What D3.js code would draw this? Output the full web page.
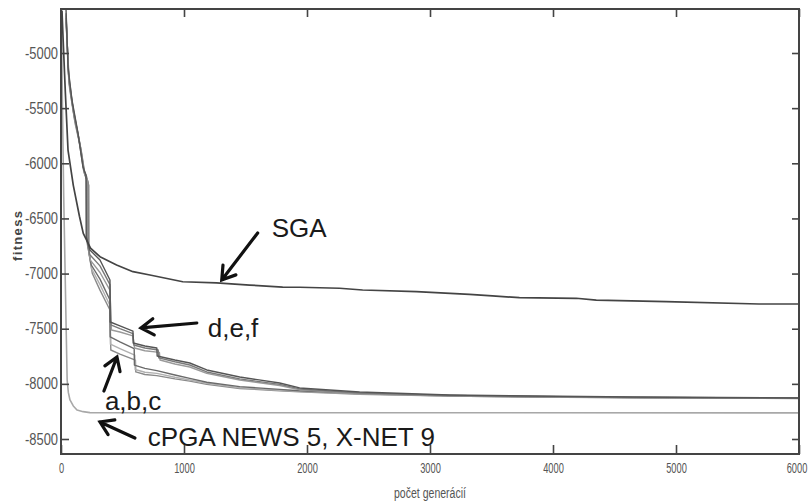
<!DOCTYPE html>
<html>
<head>
<meta charset="utf-8">
<script src="https://cdn.jsdelivr.net/npm/d3@7/dist/d3.min.js"></script>
<style>
  html, body { margin: 0; padding: 0; background: #fff; }
  svg { display: block; }
</style>
</head>
<body>
<svg id="chart" width="812" height="504"></svg>
<script>
// Convergence of fitness over generations: SGA, six cellular variants (a–f), cPGA NEWS 5 / X-NET 9

const xTicks = [0, 1000, 2000, 3000, 4000, 5000, 6000];
const yTicks = [-8500, -8000, -7500, -7000, -6500, -6000, -5500, -5000];

// [generation, fitness]
const sga = [
  [8, -4620], [20, -4950], [35, -5350], [57, -5880], [100, -6200], [150, -6480],
  [181, -6635], [195, -6668], [240, -6770], [317, -6847], [452, -6922], [585, -6983],
  [723, -7013], [990, -7074], [1264, -7085], [1534, -7104], [1802, -7122], [1940, -7124],
  [2265, -7133], [2452, -7149], [2890, -7164], [3321, -7188], [3507, -7203], [3727, -7218],
  [4189, -7224], [4352, -7240], [4920, -7255], [5675, -7276], [6000, -7276]
];

const seriesD = [
  [41, -4610], [57, -5127], [89, -5426], [138, -5725], [179, -6034], [203, -6106],
  [205, -6668], [235, -6786], [317, -6877], [398, -7058], [400, -7439], [479, -7475],
  [585, -7521], [587, -7630], [682, -7657], [779, -7675], [782, -7747], [926, -7784],
  [1047, -7811], [1185, -7874], [1453, -7938], [1778, -7992], [1940, -8037], [2428, -8074],
  [3158, -8101], [3832, -8110], [4644, -8119], [6000, -8128]
];
const seriesE = [
  [41, -4640], [60, -5180], [95, -5480], [142, -5760], [183, -6060], [208, -6120],
  [210, -6700], [235, -6830], [317, -6930], [398, -7100], [405, -7466], [479, -7500],
  [585, -7545], [592, -7648], [682, -7675], [790, -7693], [795, -7765], [926, -7800],
  [1047, -7829], [1185, -7892], [1453, -7955], [1778, -8005], [1940, -8046], [2428, -8083],
  [3158, -8105], [3832, -8115], [4644, -8122], [6000, -8128]
];
const seriesF = [
  [41, -4660], [62, -5220], [100, -5520], [150, -5800], [188, -6080], [213, -6140],
  [215, -6740], [240, -6880], [317, -6990], [398, -7150], [410, -7512], [479, -7530],
  [585, -7565], [598, -7675], [682, -7700], [800, -7715], [805, -7784], [926, -7820],
  [1047, -7847], [1185, -7905], [1453, -7965], [1778, -8015], [1940, -8055], [2428, -8090],
  [3158, -8110], [3832, -8120], [4644, -8125], [6000, -8131]
];
const seriesA = [
  [41, -4680], [64, -5250], [105, -5560], [155, -5830], [190, -6090], [218, -6160],
  [220, -6760], [245, -6920], [317, -7050], [398, -7240], [400, -7575], [479, -7620],
  [595, -7680], [597, -7830], [682, -7860], [779, -7880], [926, -7920], [1047, -7950],
  [1185, -7985], [1453, -8025], [1778, -8050], [1940, -8062], [2428, -8085], [3158, -8105],
  [3832, -8115], [4644, -8124], [6000, -8130]
];
const seriesB = [
  [41, -4700], [66, -5280], [110, -5600], [160, -5860], [193, -6100], [222, -6180],
  [224, -6790], [250, -6960], [317, -7100], [398, -7290], [402, -7640], [479, -7680],
  [600, -7740], [603, -7870], [682, -7895], [779, -7905], [926, -7940], [1047, -7965],
  [1185, -7995], [1453, -8035], [1778, -8058], [1940, -8068], [2428, -8090], [3158, -8108],
  [3832, -8118], [4644, -8125], [6000, -8131]
];
const seriesC = [
  [41, -4720], [70, -5320], [115, -5640], [165, -5890], [196, -6110], [226, -6200],
  [228, -6820], [255, -7000], [317, -7150], [398, -7330], [405, -7693], [479, -7730],
  [605, -7784], [608, -7892], [682, -7915], [779, -7925], [926, -7955], [1047, -7975],
  [1185, -8005], [1453, -8042], [1778, -8062], [1940, -8072], [2428, -8094], [3158, -8110],
  [3832, -8120], [4644, -8127], [6000, -8133]
];
const cpga = [
  [3, -4610], [12, -5500], [22, -6300], [32, -6900], [42, -7500], [50, -7965],
  [60, -8080], [73, -8146], [100, -8200], [130, -8237], [180, -8252], [235, -8261],
  [6000, -8263]
];

const lineSeries = [
  { name: "cPGA", data: cpga, color: "#a8a8a8", width: 1.6 },
  { name: "c", data: seriesC, color: "#8a8a8a", width: 1.4 },
  { name: "b", data: seriesB, color: "#b0b0b0", width: 1.4 },
  { name: "a", data: seriesA, color: "#6a6a6a", width: 1.4 },
  { name: "f", data: seriesF, color: "#9a9a9a", width: 1.4 },
  { name: "e", data: seriesE, color: "#7a7a7a", width: 1.4 },
  { name: "d", data: seriesD, color: "#555555", width: 1.4 },
  { name: "SGA", data: sga, color: "#444444", width: 1.7 }
];

// annotation text and arrows, in data units
const labels = [
  { text: "SGA", at: [1713, -6668] },
  { text: "d,e,f", at: [1193, -7575] },
  { text: "a,b,c", at: [357, -8237] },
  { text: "cPGA NEWS 5, X-NET 9", at: [706, -8563] }
];
const arrows = [
  { from: [1599, -6632], to: [1307, -7058] },
  { from: [1104, -7448], to: [650, -7493] },
  { from: [349, -8065], to: [455, -7756] },
  { from: [601, -8491], to: [317, -8346] }
];

const svg = d3.select("#chart");
const plotLeft = 61, plotRight = 799, plotTop = 9, plotBottom = 454;

const x = d3.scaleLinear().domain([0, 6000]).range([plotLeft, plotRight]);
const y = d3.scaleLinear().domain([-8636, -4601]).range([plotBottom, plotTop]);

const line = d3.line().x(d => x(d[0])).y(d => y(d[1]));

svg.append("clipPath").attr("id", "clip")
  .append("rect").attr("x", plotLeft).attr("y", plotTop)
  .attr("width", plotRight - plotLeft).attr("height", plotBottom - plotTop);

const lines = svg.append("g").attr("clip-path", "url(#clip)");
lines.selectAll("path").data(lineSeries).join("path")
  .attr("d", s => line(s.data))
  .attr("fill", "none")
  .attr("stroke", s => s.color)
  .attr("stroke-width", s => s.width)
  .attr("stroke-linejoin", "round");

// annotations
const ann = svg.append("g");
ann.selectAll("text").data(labels).join("text")
  .attr("x", d => x(d.at[0]))
  .attr("y", d => y(d.at[1]))
  .attr("font-family", "'Liberation Sans', Arial, sans-serif")
  .attr("font-size", 26)
  .attr("fill", "#1a1a1a")
  .text(d => d.text);

arrows.forEach(a => {
  const x1 = x(a.from[0]), y1 = y(a.from[1]), x2 = x(a.to[0]), y2 = y(a.to[1]);
  const ang = Math.atan2(y2 - y1, x2 - x1);
  const len = 15, spread = Math.PI / 5.5;
  const h1 = [x2 - len * Math.cos(ang - spread), y2 - len * Math.sin(ang - spread)];
  const h2 = [x2 - len * Math.cos(ang + spread), y2 - len * Math.sin(ang + spread)];
  ann.append("path")
    .attr("d", `M${x1},${y1}L${x2},${y2}M${h1[0]},${h1[1]}L${x2},${y2}L${h2[0]},${h2[1]}`)
    .attr("fill", "none")
    .attr("stroke", "#111")
    .attr("stroke-width", 3.2)
    .attr("stroke-linecap", "round")
    .attr("stroke-linejoin", "miter");
});

// axes with inward ticks on all four sides
const fmt = d => String(d);
const tickFont = "'Liberation Sans', Arial, sans-serif";

const gLeft = svg.append("g").attr("transform", `translate(${plotLeft},0)`)
  .call(d3.axisLeft(y).tickValues(yTicks).tickSizeInner(-8).tickSizeOuter(0).tickPadding(3).tickFormat(fmt));
const gBottom = svg.append("g").attr("transform", `translate(0,${plotBottom})`)
  .call(d3.axisBottom(x).tickValues(xTicks).tickSizeInner(-9).tickSizeOuter(0).tickPadding(8).tickFormat(fmt));
const gTop = svg.append("g").attr("transform", `translate(0,${plotTop})`)
  .call(d3.axisTop(x).tickValues(xTicks).tickSizeInner(-8).tickSizeOuter(0).tickFormat(""));
const gRight = svg.append("g").attr("transform", `translate(${plotRight},0)`)
  .call(d3.axisRight(y).tickValues(yTicks).tickSizeInner(-7).tickSizeOuter(0).tickFormat(""));

[gLeft, gBottom, gTop, gRight].forEach(g => {
  g.select(".domain").remove();
  g.selectAll(".tick line").attr("stroke", "#444").attr("stroke-width", 1.6);
});

gLeft.selectAll(".tick text")
  .attr("font-family", tickFont).attr("font-size", 16).attr("fill", "#555")
  .attr("textLength", 33).attr("lengthAdjust", "spacingAndGlyphs");

// narrow, tall digits on the x axis: squeeze horizontally around each tick
gBottom.selectAll(".tick text")
  .attr("font-family", tickFont).attr("font-size", 15).attr("fill", "#555")
  .attr("transform", "scale(0.62,1)")
  .attr("x", d => d === 6000 ? -4 : 0);

// frame
svg.append("rect")
  .attr("x", plotLeft).attr("y", plotTop)
  .attr("width", plotRight - plotLeft).attr("height", plotBottom - plotTop)
  .attr("fill", "none").attr("stroke", "#444").attr("stroke-width", 2);

// axis titles
svg.append("text")
  .attr("x", (plotLeft + plotRight) / 2).attr("y", 498)
  .attr("text-anchor", "middle")
  .attr("font-family", tickFont).attr("font-size", 14).attr("fill", "#555")
  .attr("textLength", 72).attr("lengthAdjust", "spacingAndGlyphs")
  .text("počet generácií");

svg.append("text")
  .attr("transform", "translate(22,236) rotate(-90)")
  .attr("text-anchor", "middle")
  .attr("font-family", tickFont).attr("font-size", 13).attr("font-weight", "bold").attr("fill", "#444")
  .attr("textLength", 50).attr("lengthAdjust", "spacing")
  .text("fitness");
</script>
</body>
</html>
